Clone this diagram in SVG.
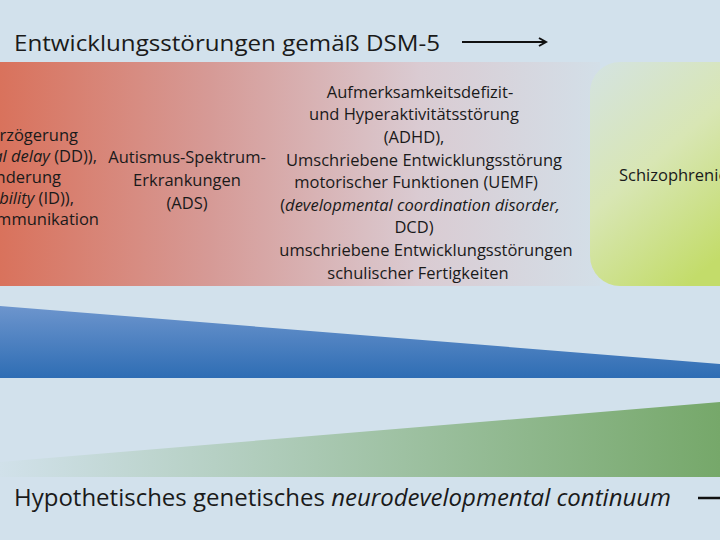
<svg xmlns="http://www.w3.org/2000/svg" width="720" height="540" viewBox="0 0 720 540">
<defs>
<linearGradient id="red" x1="0" x2="1" y1="0" y2="0"><stop offset="0" stop-color="#d9725c"/><stop offset="0.35" stop-color="#d69a96"/><stop offset="0.7" stop-color="#dacbd2"/><stop offset="1" stop-color="#d3dfe8"/></linearGradient>
<linearGradient id="grn" x1="0" y1="0" x2="0.6" y2="1"><stop offset="0" stop-color="#d4e3e2"/><stop offset="0.5" stop-color="#d8e6b4"/><stop offset="1" stop-color="#c3dc6a"/></linearGradient>
<linearGradient id="blu" x1="0" y1="0" x2="0" y2="1"><stop offset="0" stop-color="#6d95cd"/><stop offset="1" stop-color="#2e6db4"/></linearGradient>
<linearGradient id="gw" x1="0" x2="1" y1="0" y2="0"><stop offset="0" stop-color="#d1e1ea"/><stop offset="1" stop-color="#76a86a"/></linearGradient>
<marker id="ah" markerWidth="10" markerHeight="10" refX="8" refY="5" orient="auto" markerUnits="userSpaceOnUse"><path d="M1,1 L8,5 L1,9" fill="none" stroke="#111" stroke-width="2"/></marker>
<style>
text{font-family:"Open Sans","Noto Sans",sans-serif;fill:#1a1a1a}
.s{font-size:16.5px;text-anchor:middle}
.e{font-size:16.5px;text-anchor:end}
.t{font-size:22px}
</style>
</defs>
<rect width="720" height="540" fill="#d2e1ec"/>
<g id="bands">
<rect x="0" y="62" width="600" height="224" fill="url(#red)"/>
<rect x="590" y="62" width="160" height="224" rx="30" fill="url(#grn)"/>
<path d="M0,306 L720,364 L720,378 L0,378 Z" fill="url(#blu)"/>
<path d="M0,462 L720,402 L720,477 L0,477 Z" fill="url(#gw)"/>
</g>
<g id="title">
<text class="t" x="14" y="51" textLength="426" lengthAdjust="spacingAndGlyphs">Entwicklungsstörungen gemäß DSM-5</text>
</g>
<g id="connectors">
<line x1="462" y1="42" x2="546" y2="42" stroke="#111" stroke-width="2" marker-end="url(#ah)"/>
<line x1="698" y1="498" x2="730" y2="498" stroke="#111" stroke-width="2.5"/>
</g>
<g id="node-dd">
<text class="e" x="78" y="141">Entwicklungsverzögerung</text>
<text class="e" x="97" y="162">(<tspan font-style="italic">developmental delay</tspan> (DD)),</text>
<text class="e" x="61" y="183">Intelligenzminderung</text>
<text class="e" x="74" y="204">(<tspan font-style="italic">intellectual disability</tspan> (ID)),</text>
<text class="e" x="99" y="225">Störungen der Kommunikation</text>
</g>
<g id="node-ads">
<text class="s" x="187" y="163">Autismus-Spektrum-</text>
<text class="s" x="187" y="186">Erkrankungen</text>
<text class="s" x="187" y="209">(ADS)</text>
</g>
<g id="node-adhd">
<text class="s" x="420" y="98">Aufmerksamkeitsdefizit-</text>
<text class="s" x="414" y="120">und Hyperaktivitätsstörung</text>
<text class="s" x="414" y="143">(ADHD),</text>
<text class="s" x="424" y="166">Umschriebene Entwicklungsstörung</text>
<text class="s" x="416" y="188">motorischer Funktionen (UEMF)</text>
<text class="s" x="420" y="211">(<tspan font-style="italic">developmental coordination disorder,</tspan></text>
<text class="s" x="414" y="233">DCD)</text>
<text class="s" x="426" y="256">umschriebene Entwicklungsstörungen</text>
<text class="s" x="418" y="279">schulischer Fertigkeiten</text>
</g>
<g id="node-scz">
<text x="619" y="181" style="font-size:16.5px">Schizophrenie</text>
</g>
<g id="footer">
<text class="t" x="14" y="506" style="font-size:24px">Hypothetisches genetisches <tspan font-style="italic">neurodevelopmental continuum</tspan></text>
</g>
</svg>
